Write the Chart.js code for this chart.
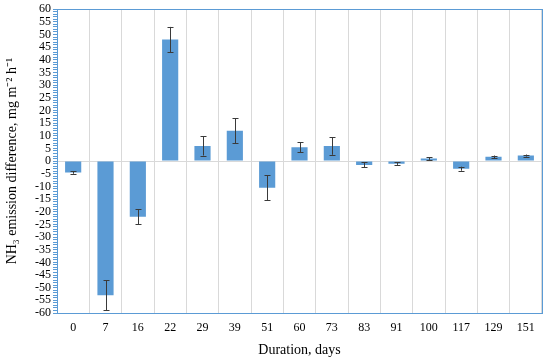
<!DOCTYPE html>
<html>
<head>
<meta charset="utf-8">
<script src="https://cdn.jsdelivr.net/npm/chart.js@4"></script>
<style>
  html, body { margin: 0; padding: 0; background: #fff; }
  #wrap { width: 550px; height: 363px; }
</style>
</head>
<body>
<div id="wrap"><canvas id="nh3Chart"></canvas></div>
<script>
const days = ['0', '7', '16', '22', '29', '39', '51', '60', '73', '83', '91', '100', '117', '129', '151'];
const emissionDiff = [-4.5, -53, -22, 48, 6, 12, -10.5, 5.5, 6, -1.5, -1, 1, -3, 1.7, 2.2];
const errors = [0.5, 6, 3, 5, 3.8, 5, 5, 2, 3.5, 1, 0.5, 0.5, 0.8, 0.5, 0.4];

const blue = '#5b9bd5';
const axisBlue = '#5b9bd5';

// whiskers for each bar
const errorBars = {
    id: 'errorBars',
    afterDatasetsDraw(chart) {
        const ctx = chart.ctx;
        const meta = chart.getDatasetMeta(0);
        const y = chart.scales.y;
        ctx.save();
        ctx.strokeStyle = '#3a3a3a';
        ctx.lineWidth = 1;
        meta.data.forEach((bar, i) => {
            const v = emissionDiff[i];
            const e = errors[i];
            const x = Math.round(bar.x) + 0.5;
            const top = y.getPixelForValue(v + e);
            const bot = y.getPixelForValue(v - e);
            ctx.beginPath();
            ctx.moveTo(x, top);
            ctx.lineTo(x, bot);
            ctx.moveTo(x - 3, Math.round(top) + 0.5);
            ctx.lineTo(x + 3, Math.round(top) + 0.5);
            ctx.moveTo(x - 3, Math.round(bot) + 0.5);
            ctx.lineTo(x + 3, Math.round(bot) + 0.5);
            ctx.stroke();
        });
        ctx.restore();
    }
};

// blue frame around the plot
const frame = {
    id: 'frame',
    afterDraw(chart) {
        const a = chart.chartArea;
        const ctx = chart.ctx;
        ctx.save();
        ctx.strokeStyle = axisBlue;
        ctx.lineWidth = 1;
        ctx.strokeRect(Math.round(a.left) + 0.5, Math.round(a.top) + 0.5,
            Math.round(a.right - a.left), Math.round(a.bottom - a.top));
        ctx.restore();
    }
};

const ctx = document.getElementById('nh3Chart').getContext('2d');
new Chart(ctx, {
    type: 'bar',
    data: {
        labels: days,
        datasets: [{
            data: emissionDiff,
            backgroundColor: blue,
            borderWidth: 0,
            barPercentage: 0.5,
            categoryPercentage: 1
        }]
    },
    options: {
        responsive: true,
        maintainAspectRatio: false,
        animation: false,
        layout: { padding: { top: 8, right: 8, left: 0, bottom: 0 } },
        plugins: {
            legend: { display: false },
            tooltip: { enabled: false }
        },
        scales: {
            x: {
                grid: {
                    color: '#d9d9d9',
                    offset: true,
                    drawTicks: false
                },
                border: { color: axisBlue },
                ticks: {
                    color: '#000',
                    font: { family: 'Liberation Serif', size: 12 },
                    padding: 8
                },
                title: {
                    display: true,
                    text: 'Duration, days',
                    color: '#000',
                    font: { family: 'Liberation Serif', size: 14 },
                    padding: { top: 4 }
                },
                afterFit(scale) { scale.height = 50; }
            },
            y: {
                min: -60,
                max: 60,
                grid: {
                    color: (c) => c.tick && c.tick.value === 0 ? '#d9d9d9' : 'rgba(0,0,0,0)',
                    tickColor: axisBlue,
                    tickLength: 4
                },
                border: { color: axisBlue },
                ticks: {
                    stepSize: 1,
                    autoSkip: false,
                    color: '#000',
                    font: { family: 'Liberation Serif', size: 12 },
                    padding: 2,
                    callback: (v) => v % 5 === 0 ? v : ''
                },
                title: {
                    display: true,
                    text: 'NH\u2083 emission difference, mg m\u207B\u00B2 h\u207B\u00B9',
                    color: '#000',
                    font: { family: 'Liberation Serif', size: 14 },
                    padding: { bottom: 2 }
                },
                afterFit(scale) { scale.width = 57; }
            }
        }
    },
    plugins: [errorBars, frame]
});
</script>
</body>
</html>
